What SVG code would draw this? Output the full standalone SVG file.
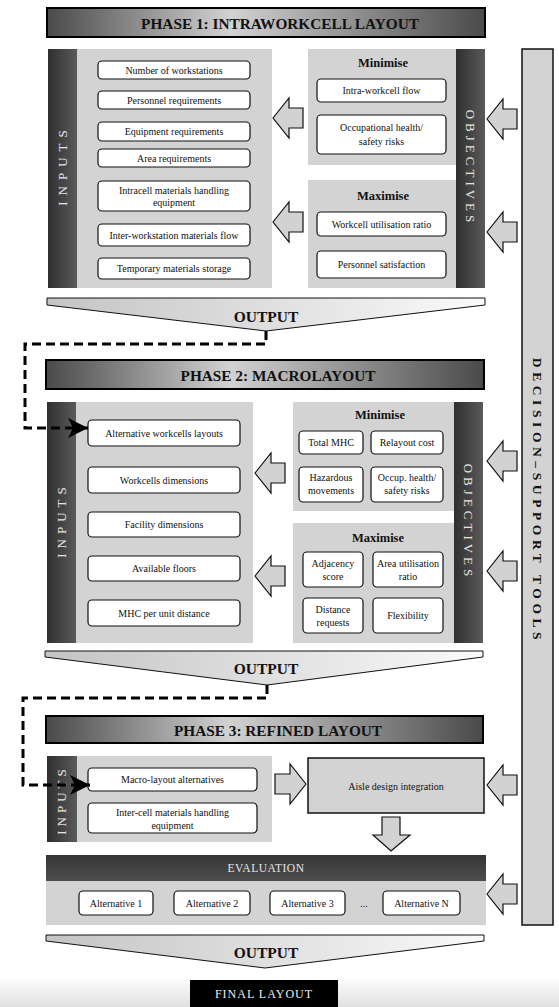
<svg xmlns="http://www.w3.org/2000/svg" xmlns:xlink="http://www.w3.org/1999/xlink" width="559" height="1007" viewBox="0 0 559 1007">
<defs>
<linearGradient id="hdr" x1="0" y1="0" x2="1" y2="0">
<stop offset="0" stop-color="#4a4a4a"/><stop offset="0.42" stop-color="#d2d2d2"/><stop offset="1" stop-color="#4a4a4a"/>
</linearGradient>
<linearGradient id="strip" x1="0" y1="0" x2="1" y2="0">
<stop offset="0" stop-color="#2f2f2f"/><stop offset="1" stop-color="#5a5a5a"/>
</linearGradient>
<linearGradient id="funnel" x1="0" y1="0" x2="1" y2="0">
<stop offset="0" stop-color="#c4c4c4"/><stop offset="1" stop-color="#fafafa"/>
</linearGradient>
<linearGradient id="evalbar" x1="0" y1="0" x2="0" y2="1">
<stop offset="0" stop-color="#353535"/><stop offset="1" stop-color="#4e4e4e"/>
</linearGradient>
<linearGradient id="band" x1="0" y1="0" x2="0" y2="1">
<stop offset="0" stop-color="#ffffff"/><stop offset="1" stop-color="#e0e0e0"/>
</linearGradient>
<path id="aL" d="M0,0 L16,-20 L16,-10 L30,-10 L30,10 L16,10 L16,20 Z"/>
<path id="aR" d="M0,0 L-16,-20 L-16,-10 L-31,-10 L-31,10 L-16,10 L-16,20 Z"/>
<marker id="dh" markerUnits="userSpaceOnUse" markerWidth="22" markerHeight="22" refX="20" refY="10" orient="auto">
<path d="M0,0 L20,10 L0,20 L5,10 Z" fill="#000"/>
</marker>
<style>
text{font-family:"Liberation Serif","Times New Roman",serif;fill:#111;}
.hdr{fill:url(#hdr);stroke:#000;stroke-width:2;}
.ttl{font-size:15.3px;font-weight:bold;text-anchor:middle;}
.panel{fill:#d3d3d3;}
.strip{fill:url(#strip);}
.box{fill:#fff;stroke:#111;stroke-width:1.2;}
.bt{font-size:10px;text-anchor:middle;}
.sub{font-size:12.5px;font-weight:bold;text-anchor:middle;}
.vt{font-size:13px;fill:#e4e4e4;text-anchor:middle;}
.arr{fill:#d2d2d2;stroke:#111;stroke-width:1.2;}
.fun{fill:url(#funnel);stroke:#111;stroke-width:1;}
.out{font-size:15.5px;font-weight:bold;text-anchor:middle;}
.dash{fill:none;stroke:#000;stroke-width:3;stroke-dasharray:9 5;marker-end:url(#dh);}
</style>
</defs>
<rect x="0" y="0" width="559" height="1007" fill="#fff"/>
<rect x="0" y="976" width="559" height="31" fill="url(#band)"/>

<!-- Decision support tools bar -->
<g id="decision-support">
<rect x="522" y="49" width="31" height="876" fill="#d3d3d3" stroke="#111" stroke-width="1.5"/>
<text x="0" y="0" transform="translate(533,501) rotate(90)" style="font-size:13.5px;font-weight:bold;letter-spacing:4.6px;text-anchor:middle;">DECISION–SUPPORT TOOLS</text>
</g>

<!-- PHASE 1 -->
<g id="phase1-header">
<rect class="hdr" x="47" y="8" width="438" height="29"/>
<text class="ttl" x="280" y="28.5">PHASE 1: INTRAWORKCELL LAYOUT</text>
</g>
<g id="phase1-inputs">
<rect class="panel" x="48" y="49" width="224" height="239"/>
<rect class="strip" x="48" y="49" width="29" height="239"/>
<text class="vt" transform="translate(67,165) rotate(-90)" style="letter-spacing:6px;">INPUTS</text>
<rect class="box" x="98" y="61" width="152" height="18" rx="4"/>
<text class="bt" x="174" y="73.5">Number of workstations</text>
<rect class="box" x="98" y="91" width="152" height="18" rx="4"/>
<text class="bt" x="174" y="103.5">Personnel requirements</text>
<rect class="box" x="98" y="122" width="152" height="19" rx="4"/>
<text class="bt" x="174" y="135">Equipment requirements</text>
<rect class="box" x="98" y="149" width="152" height="18" rx="4"/>
<text class="bt" x="174" y="161.5">Area requirements</text>
<rect class="box" x="98" y="181" width="152" height="30" rx="4"/>
<text class="bt" x="174" y="194">Intracell materials handling</text>
<text class="bt" x="174" y="206">equipment</text>
<rect class="box" x="98" y="224" width="152" height="22" rx="4"/>
<text class="bt" x="174" y="238.5">Inter-workstation materials flow</text>
<rect class="box" x="98" y="258" width="152" height="21" rx="4"/>
<text class="bt" x="174" y="272">Temporary materials storage</text>
</g>
<g id="phase1-objectives">
<rect class="panel" x="308" y="49" width="149" height="116"/>
<rect class="panel" x="308" y="180" width="149" height="108"/>
<rect class="strip" x="456" y="49" width="29" height="239"/>
<text class="vt" transform="translate(466,168) rotate(90)" style="letter-spacing:4px;">OBJECTIVES</text>
<text class="sub" x="383" y="67">Minimise</text>
<rect class="box" x="317" y="79" width="129" height="23" rx="4"/>
<text class="bt" x="381.5" y="94">Intra-workcell flow</text>
<rect class="box" x="317" y="115" width="129" height="39" rx="4"/>
<text class="bt" x="381.5" y="131">Occupational health/</text>
<text class="bt" x="381.5" y="145">safety risks</text>
<text class="sub" x="383" y="200">Maximise</text>
<rect class="box" x="317" y="212" width="129" height="24" rx="4"/>
<text class="bt" x="381.5" y="227.5">Workcell utilisation ratio</text>
<rect class="box" x="317" y="251" width="129" height="27" rx="4"/>
<text class="bt" x="381.5" y="268">Personnel satisfaction</text>
</g>
<g id="phase1-output">
<polygon class="fun" points="47,298 485,298 485,305 266,331 47,305"/>
<text class="out" x="266" y="322">OUTPUT</text>
</g>

<!-- PHASE 2 -->
<g id="phase2-header">
<rect class="hdr" x="46" y="360" width="438" height="29"/>
<text class="ttl" x="278" y="380.5">PHASE 2: MACROLAYOUT</text>
</g>
<g id="phase2-inputs">
<rect class="panel" x="47" y="402" width="206" height="241"/>
<rect class="strip" x="47" y="402" width="29" height="241"/>
<text class="vt" transform="translate(66,520) rotate(-90)" style="letter-spacing:5px;">INPUTS</text>
<rect class="box" x="88" y="420" width="152" height="26" rx="4"/>
<text class="bt" x="164" y="436.5">Alternative workcells layouts</text>
<rect class="box" x="88" y="467" width="152" height="26" rx="4"/>
<text class="bt" x="164" y="483.5">Workcells dimensions</text>
<rect class="box" x="88" y="512" width="152" height="25" rx="4"/>
<text class="bt" x="164" y="528">Facility dimensions</text>
<rect class="box" x="88" y="556" width="152" height="25" rx="4"/>
<text class="bt" x="164" y="572">Available floors</text>
<rect class="box" x="88" y="600" width="152" height="26" rx="4"/>
<text class="bt" x="164" y="616.5">MHC per unit distance</text>
</g>
<g id="phase2-objectives">
<rect class="panel" x="293" y="402" width="162" height="109"/>
<rect class="panel" x="293" y="523" width="162" height="120"/>
<rect class="strip" x="454" y="402" width="29" height="241"/>
<text class="vt" transform="translate(464,522) rotate(90)" style="letter-spacing:4px;">OBJECTIVES</text>
<text class="sub" x="380" y="419">Minimise</text>
<rect class="box" x="299" y="431" width="64" height="23" rx="4"/>
<text class="bt" x="331" y="446">Total MHC</text>
<rect class="box" x="371" y="431" width="72" height="23" rx="4"/>
<text class="bt" x="407" y="446">Relayout cost</text>
<rect class="box" x="299" y="467" width="64" height="35" rx="4"/>
<text class="bt" x="331" y="481">Hazardous</text>
<text class="bt" x="331" y="494">movements</text>
<rect class="box" x="371" y="467" width="72" height="35" rx="4"/>
<text class="bt" x="407" y="481">Occup. health/</text>
<text class="bt" x="407" y="494">safety risks</text>
<text class="sub" x="378" y="542">Maximise</text>
<rect class="box" x="303" y="552" width="60" height="35" rx="4"/>
<text class="bt" x="333" y="567">Adjacency</text>
<text class="bt" x="333" y="580">score</text>
<rect class="box" x="373" y="552" width="70" height="35" rx="4"/>
<text class="bt" x="408" y="567">Area utilisation</text>
<text class="bt" x="408" y="580">ratio</text>
<rect class="box" x="303" y="598" width="60" height="35" rx="4"/>
<text class="bt" x="333" y="613">Distance</text>
<text class="bt" x="333" y="626">requests</text>
<rect class="box" x="373" y="598" width="70" height="35" rx="4"/>
<text class="bt" x="408" y="619">Flexibility</text>
</g>
<g id="phase2-output">
<polygon class="fun" points="45,651 483,651 483,657 267,685 45,657"/>
<text class="out" x="266" y="674">OUTPUT</text>
</g>

<!-- PHASE 3 -->
<g id="phase3-header">
<rect class="hdr" x="46" y="716" width="437" height="27"/>
<text class="ttl" x="278" y="735.5">PHASE 3: REFINED LAYOUT</text>
</g>
<g id="phase3-inputs">
<rect class="panel" x="47" y="756" width="225" height="86"/>
<rect class="strip" x="47" y="756" width="30" height="86"/>
<text class="vt" transform="translate(66,800) rotate(-90)" style="letter-spacing:4px;">INPUTS</text>
<rect class="box" x="88" y="768" width="169" height="23" rx="4"/>
<text class="bt" x="172.5" y="783">Macro-layout alternatives</text>
<rect class="box" x="88" y="803" width="169" height="30" rx="4"/>
<text class="bt" x="172.5" y="816">Inter-cell materials handling</text>
<text class="bt" x="172.5" y="828.5">equipment</text>
</g>
<g id="aisle-design">
<rect x="308" y="758" width="176" height="55" fill="#d3d3d3" stroke="#111" stroke-width="1.5"/>
<text class="bt" x="396" y="789.5">Aisle design integration</text>
</g>
<g id="evaluation">
<rect x="46" y="855" width="440" height="26" fill="url(#evalbar)"/>
<rect class="panel" x="46" y="881" width="440" height="44"/>
<text x="266" y="872" style="font-size:11.5px;fill:#e6e6e6;text-anchor:middle;letter-spacing:0.5px;">EVALUATION</text>
<rect class="box" x="79" y="891" width="74" height="24" rx="4"/>
<text class="bt" x="116" y="906.5">Alternative 1</text>
<rect class="box" x="174" y="891" width="76" height="24" rx="4"/>
<text class="bt" x="212" y="906.5">Alternative 2</text>
<rect class="box" x="270" y="891" width="75" height="24" rx="4"/>
<text class="bt" x="307.5" y="906.5">Alternative 3</text>
<text class="bt" x="364" y="906.5">...</text>
<rect class="box" x="383" y="891" width="77" height="24" rx="4"/>
<text class="bt" x="421.5" y="906.5">Alternative N</text>
</g>
<g id="final-output">
<polygon class="fun" points="46,935 484,935 484,941 265,968 46,941"/>
<text class="out" x="266" y="958">OUTPUT</text>
</g>
<g id="final-layout">
<rect x="190" y="980" width="148" height="27" fill="#000"/>
<text x="264" y="998" style="font-size:12px;fill:#f0f0f0;text-anchor:middle;letter-spacing:1px;">FINAL LAYOUT</text>
</g>

<!-- Connectors -->
<g id="connectors">
<use xlink:href="#aL" x="273" y="118" class="arr"/>
<use xlink:href="#aL" x="273" y="222" class="arr"/>
<use xlink:href="#aL" x="487" y="119" class="arr"/>
<use xlink:href="#aL" x="487" y="232" class="arr"/>
<use xlink:href="#aL" x="255" y="473" class="arr"/>
<use xlink:href="#aL" x="255" y="576" class="arr"/>
<use xlink:href="#aL" x="487" y="461" class="arr"/>
<use xlink:href="#aL" x="487" y="571" class="arr"/>
<use xlink:href="#aR" x="306" y="784" class="arr"/>
<use xlink:href="#aL" x="487" y="785" class="arr"/>
<use xlink:href="#aL" x="487" y="894" class="arr"/>
<path class="arr" d="M382,817 H400 V835 H410 L391,851 L373,835 H382 Z"/>
<path class="dash" d="M266,331 V344 H25 V428 H88"/>
<path class="dash" d="M267,685 V698 H23 V785 H90"/>
</g>
</svg>
